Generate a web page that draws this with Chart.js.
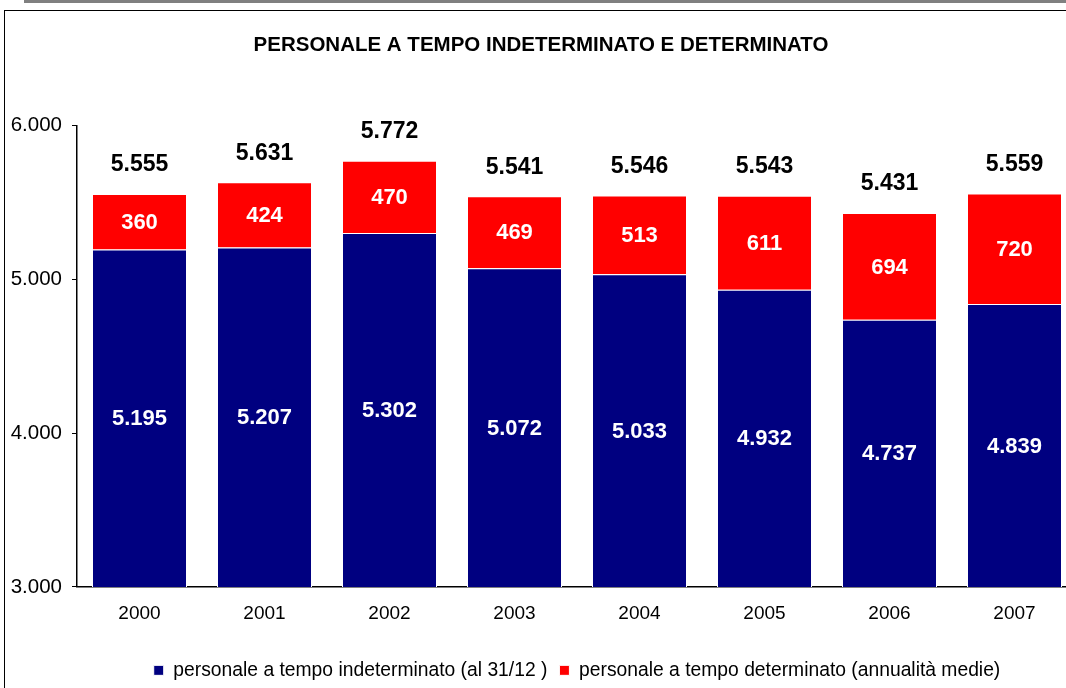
<!DOCTYPE html>
<html>
<head>
<meta charset="utf-8">
<script src="https://cdn.jsdelivr.net/npm/chart.js@4.4.1/dist/chart.umd.min.js"></script>
<style>
  html, body { margin: 0; padding: 0; background: #fff; overflow: hidden; width: 1066px; height: 688px; }
  #topbar { position: absolute; left: 24px; top: 0; width: 1060px; height: 3px; background: #808080; }
  #frame { position: absolute; left: 4px; top: 10px; width: 1100px; height: 700px;
           border-left: 1.5px solid #000; border-top: 1.5px solid #000; }
  #wrap { position: absolute; left: 5px; top: 12px; width: 1082px; height: 680px; }
</style>
</head>
<body>
<div id="topbar"></div>
<div id="frame"></div>
<div id="wrap"><canvas id="barChart"></canvas></div>
<script>
// anni
var years = ['2000', '2001', '2002', '2003', '2004', '2005', '2006', '2007'];
// personale a tempo indeterminato (al 31/12)
var indeterminato = [5195, 5207, 5302, 5072, 5033, 4932, 4737, 4839];
// personale a tempo determinato (annualità medie)
var determinato = [360, 424, 470, 469, 513, 611, 694, 720];
// totali mostrati sopra le colonne
var totali = [5555, 5631, 5772, 5541, 5546, 5543, 5431, 5559];
var yTicks = [3000, 4000, 5000, 6000];

var fmt = function (v) {
    return String(v).replace(/\B(?=(\d{3})+(?!\d))/g, '.');
};

var FONT = "'Liberation Sans', Arial, sans-serif";

var barLabels = {
    id: 'barLabels',
    afterDatasetsDraw: function (chart) {
        var ctx = chart.ctx;
        var area = chart.chartArea;
        ctx.save();
        ctx.textAlign = 'center';
        ctx.textBaseline = 'middle';
        ctx.font = 'bold 22px ' + FONT;
        ctx.fillStyle = '#ffffff';
        chart.data.datasets.forEach(function (ds, i) {
            var meta = chart.getDatasetMeta(i);
            meta.data.forEach(function (bar, j) {
                var base = Math.min(bar.base, area.bottom);
                ctx.fillText(fmt(ds.data[j]), bar.x, (bar.y + base) / 2 + 1);
            });
        });
        var top = chart.getDatasetMeta(1);
        ctx.fillStyle = '#000000';
        ctx.font = 'bold 23px ' + FONT;
        top.data.forEach(function (bar, j) {
            ctx.fillText(fmt(totali[j]), bar.x, bar.y - 29);
        });
        ctx.restore();
    }
};

var ctx = document.getElementById('barChart');
var myChart = new Chart(ctx, {
    type: 'bar',
    data: {
        labels: years,
        datasets: [{
            label: 'personale a tempo indeterminato (al 31/12 )',
            data: indeterminato,
            backgroundColor: '#000080',
            borderColor: '#ffffff',
            borderWidth: 1,
            borderSkipped: 'start'
        }, {
            label: 'personale a tempo determinato (annualità medie)',
            data: determinato,
            backgroundColor: '#ff0000',
            borderColor: '#ffffff',
            borderWidth: 1,
            borderSkipped: 'start'
        }]
    },
    options: {
        responsive: true,
        maintainAspectRatio: false,
        animation: false,
        layout: { padding: { left: 0, right: 10, top: 0, bottom: 2 } },
        datasets: { bar: { categoryPercentage: 1, barPercentage: 0.76 } },
        scales: {
            x: {
                stacked: true,
                grid: { display: false },
                border: { display: true, color: '#000', width: 1.5 },
                ticks: { color: '#000', padding: 7, font: { family: FONT, size: 19 } },
                afterFit: function (s) { s.height += 17; }
            },
            y: {
                stacked: true,
                min: 3000,
                max: 6000,
                afterBuildTicks: function (s) {
                    s.ticks = yTicks.map(function (v) { return { value: v }; });
                },
                afterFit: function (s) { s.width = 72; },
                grid: { drawOnChartArea: false, drawTicks: true, tickLength: 5, color: '#000' },
                border: { display: true, color: '#000', width: 1.5 },
                ticks: {
                    color: '#000', padding: 10,
                    font: { family: FONT, size: 20.5 },
                    callback: function (v) { return fmt(v); }
                }
            }
        },
        plugins: {
            title: {
                display: true,
                text: 'PERSONALE A TEMPO INDETERMINATO E DETERMINATO',
                color: '#000',
                font: { family: FONT, size: 20.5, weight: 'bold' },
                padding: { top: 21, bottom: 68 }
            },
            legend: {
                position: 'bottom',
                fullSize: false,
                labels: {
                    color: '#000',
                    boxWidth: 10,
                    boxHeight: 10,
                    padding: 12,
                    font: { family: FONT, size: 19.3 }
                }
            },
            tooltip: { enabled: false }
        }
    },
    plugins: [barLabels]
});
</script>
</body>
</html>
